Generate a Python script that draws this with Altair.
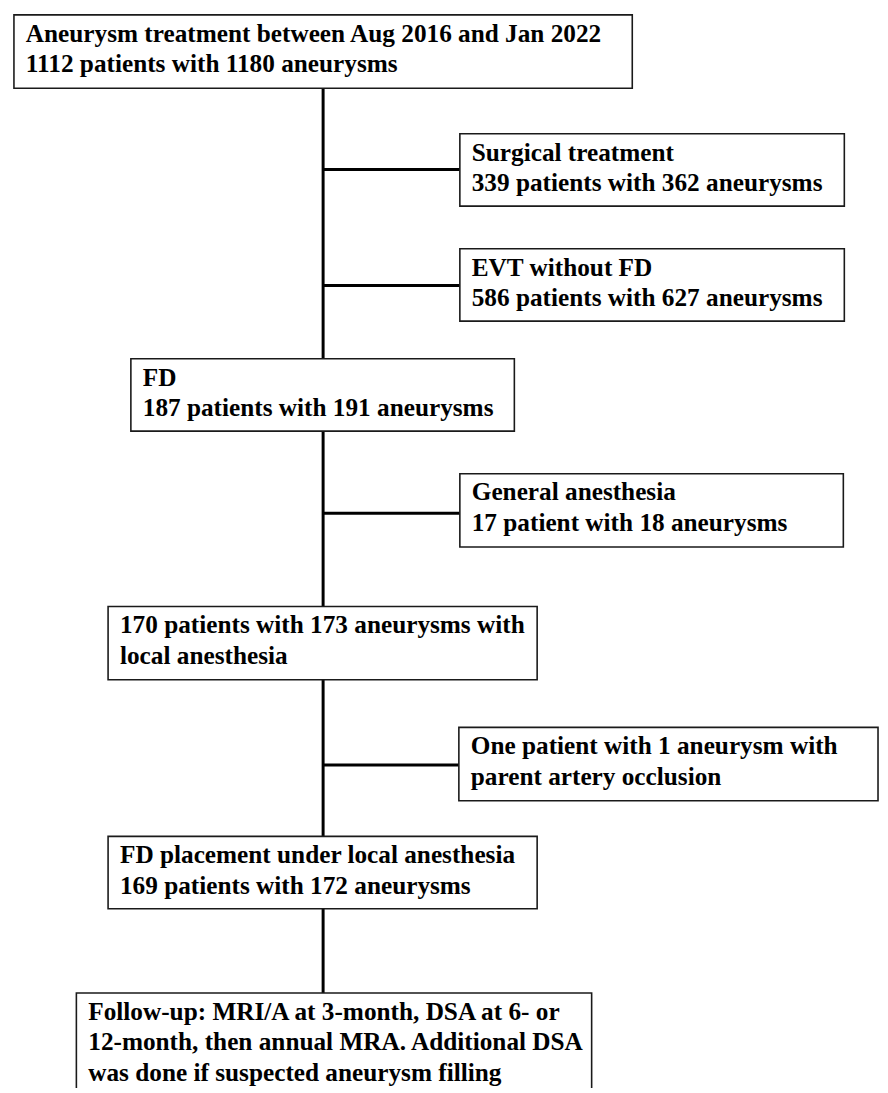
import altair as alt
import pandas as pd

# ---- content ----
box_lines = [
    ["Aneurysm treatment between Aug 2016 and Jan 2022", "1112 patients with 1180 aneurysms"],
    ["Surgical treatment", "339 patients with 362 aneurysms"],
    ["EVT without FD", "586 patients with 627 aneurysms"],
    ["FD", "187 patients with 191 aneurysms"],
    ["General anesthesia", "17 patient with 18 aneurysms"],
    ["170 patients with 173 aneurysms with", "local anesthesia"],
    ["One patient with 1 aneurysm with", "parent artery occlusion"],
    ["FD placement under local anesthesia", "169 patients with 172 aneurysms"],
    ["Follow-up: MRI/A at 3-month, DSA at 6- or",
     "12-month, then annual MRA. Additional DSA",
     "was done if suspected aneurysm filling"],
]

# ---- layout (page pixel coordinates) ----
box_x0 = [14, 464, 464, 132, 464, 109, 463, 109, 77]
box_x1 = [638, 852, 852, 519, 851, 542, 886, 542, 597]
box_y0 = [10, 130, 246, 357, 473, 607, 729, 839, 997]
box_y1 = [84, 203, 319, 430, 547, 681, 803, 912, 1110]
side_boxes = [1, 2, 4, 6]          # boxes branching off the main line
spine_x = 326
spine_y0, spine_y1 = 84, 997
branch_y = [166, 283, 513, 767]
text_pad = 12
first_baseline = 27
line_gap = 31

rect_df = pd.DataFrame({"x": box_x0, "x2": box_x1, "y": box_y0, "y2": box_y1})

txt_rows = []
for i, lines in enumerate(box_lines):
    for j, ln in enumerate(lines):
        txt_rows.append({"x": box_x0[i] + text_pad,
                         "y": box_y0[i] + first_baseline + j * line_gap,
                         "label": ln})
txt_df = pd.DataFrame(txt_rows)

rule_rows = [{"x": spine_x, "x2": spine_x, "y": spine_y0, "y2": spine_y1}]
for b, yy in zip(side_boxes, branch_y):
    rule_rows.append({"x": spine_x, "x2": box_x0[b], "y": yy, "y2": yy})
rule_df = pd.DataFrame(rule_rows)

xs = alt.Scale(domain=[8, 888], nice=False, zero=False)
ys = alt.Scale(domain=[8, 1093], nice=False, zero=False, reverse=True)

rules = alt.Chart(rule_df).mark_rule(color="black", strokeWidth=3).encode(
    x=alt.X("x:Q", scale=xs, axis=None),
    x2="x2:Q",
    y=alt.Y("y:Q", scale=ys, axis=None),
    y2="y2:Q",
)

rects = alt.Chart(rect_df).mark_rect(
    fill="white", stroke="#1a1a1a", strokeWidth=1.6, clip=True
).encode(
    x=alt.X("x:Q", scale=xs, axis=None),
    x2="x2:Q",
    y=alt.Y("y:Q", scale=ys, axis=None),
    y2="y2:Q",
)

texts = alt.Chart(txt_df).mark_text(
    align="left", baseline="alphabetic",
    font="'Liberation Serif', 'Times New Roman', Times, 'DejaVu Serif', serif",
    fontWeight="bold", fontSize=25.5, color="black"
).encode(
    x=alt.X("x:Q", scale=xs, axis=None),
    y=alt.Y("y:Q", scale=ys, axis=None),
    text="label:N",
)

chart = alt.layer(rules, rects, texts).properties(
    width=880, height=1085, padding=0,
    autosize=alt.AutoSizeParams(type="none"),
    background="white",
).configure_view(stroke=None)

chart.save("out.html", embed_options={"renderer": "svg", "actions": False})
